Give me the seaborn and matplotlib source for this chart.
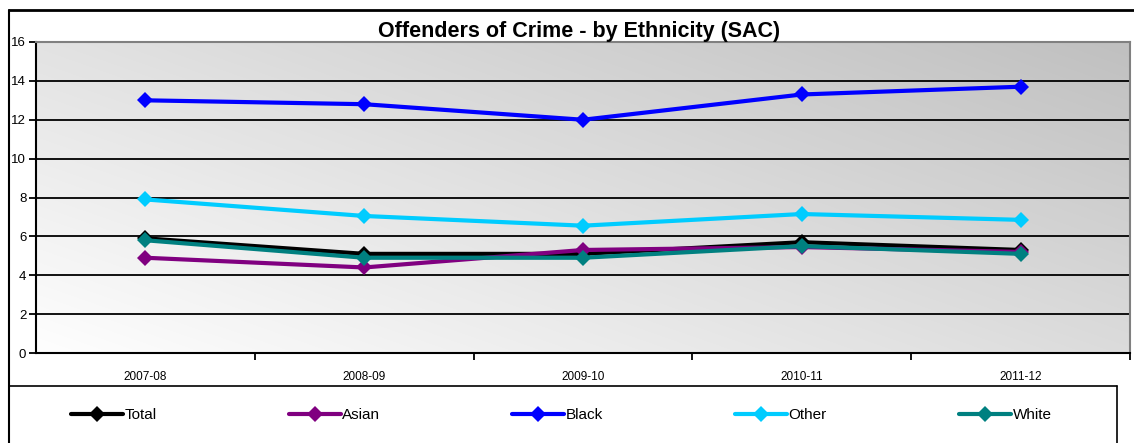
import numpy as np
import pandas as pd
import matplotlib
matplotlib.use("Agg")
import matplotlib.pyplot as plt
from matplotlib.lines import Line2D
import seaborn as sns

periods = ["2007-08", "2008-09", "2009-10", "2010-11", "2011-12"]
groups = ["Total", "Asian", "Black", "Other", "White"]
total = [5.9, 5.1, 5.1, 5.7, 5.3]
asian = [4.9, 4.4, 5.3, 5.45, 5.2]
black = [13.0, 12.8, 12.0, 13.3, 13.7]
other = [7.9, 7.05, 6.55, 7.15, 6.85]
white = [5.8, 4.9, 4.9, 5.5, 5.1]
colors = ["#000000", "#800080", "#0000FF", "#00CCFF", "#008080"]

df = pd.DataFrame({
    "idx": list(range(len(periods))) * 5,
    "value": total + asian + black + other + white,
    "group": [g for g in groups for _ in periods],
})

sns.set_style("white")
plt.rcParams["font.family"] = ["Liberation Sans", "DejaVu Sans"]
plt.rcParams["text.color"] = "black"
plt.rcParams["xtick.color"] = "black"
plt.rcParams["ytick.color"] = "black"

W, H = 1134, 443
fig = plt.figure(figsize=(W / 100, H / 100), dpi=100)
fig.patch.set_facecolor("white")

# plot area in pixels
x0, x1, y0, y1 = 36, 1130, 42, 353
ax = fig.add_axes([x0 / W, 1 - y1 / H, (x1 - x0) / W, (y1 - y0) / H])

# diagonal gradient background
gx, gy = np.meshgrid(np.linspace(0, 1, 300), np.linspace(0, 1, 100))
grad = (gx * 0.75 + gy * 0.6) / 1.35
ax.imshow(grad, extent=[0, 1, 0, 1], transform=ax.transAxes, origin="lower",
          cmap=matplotlib.colors.LinearSegmentedColormap.from_list("g", ["#FEFEFE", "#C0C0C0"]),
          aspect="auto", zorder=0, interpolation="bilinear")

for yv in range(2, 16, 2):
    ax.axhline(yv, color="black", lw=1.3, zorder=1)

sns.lineplot(data=df, x="idx", y="value", hue="group", hue_order=groups,
             palette=colors, marker="D", markersize=8.5, markeredgewidth=0,
             lw=3, legend=False, ax=ax, zorder=3)

ax.set_xlim(-0.5, 4.5)
ax.set_ylim(0, 16)
ax.set_yticks(range(0, 17, 2))
ax.set_xticks(np.arange(0.5, 4.6, 1))
ax.set_xticklabels([])
ax.set_xticks(range(5), minor=True)
ax.set_xticklabels(periods, minor=True, fontsize=8.5)
ax.tick_params(axis="x", which="minor", bottom=False, length=0, pad=13)
ax.tick_params(axis="x", which="major", bottom=True, direction="out", length=5, width=1.3)
ax.tick_params(axis="y", left=True, direction="out", length=5, width=1.3, labelsize=9.5, pad=2)
ax.set_xlabel("")
ax.set_ylabel("")
for s in ["left", "bottom"]:
    ax.spines[s].set_color("black")
    ax.spines[s].set_linewidth(1.5)
for s in ["top", "right"]:
    ax.spines[s].set_color("#808080")
    ax.spines[s].set_linewidth(1.5)

fig.text(579 / W, 1 - 31 / H, "Offenders of Crime - by Ethnicity (SAC)",
         ha="center", va="center", fontsize=15.5, fontweight="bold")

# outer frame and legend box
def fline(xs, ys, lw):
    fig.add_artist(Line2D([x / W for x in xs], [1 - y / H for y in ys],
                          color="black", lw=lw, transform=fig.transFigure))

fline([9, W], [10, 10], 2)
fline([9, 9], [10, H], 1.5)
fline([9, 1117], [386, 386], 1.2)
fline([1117, 1117], [386, H], 1.2)

handles = [Line2D([], [], color=c, lw=3, marker="D", markersize=8, markeredgewidth=0)
           for c in colors]
fig.legend(handles, groups, loc="center left", bbox_to_anchor=(71 / W, 1 - 415 / H),
           ncol=5, frameon=False, fontsize=11, handlelength=3.4, handletextpad=0.1,
           columnspacing=8.65, borderaxespad=0, borderpad=0)

fig.savefig("out.png", dpi=100)
